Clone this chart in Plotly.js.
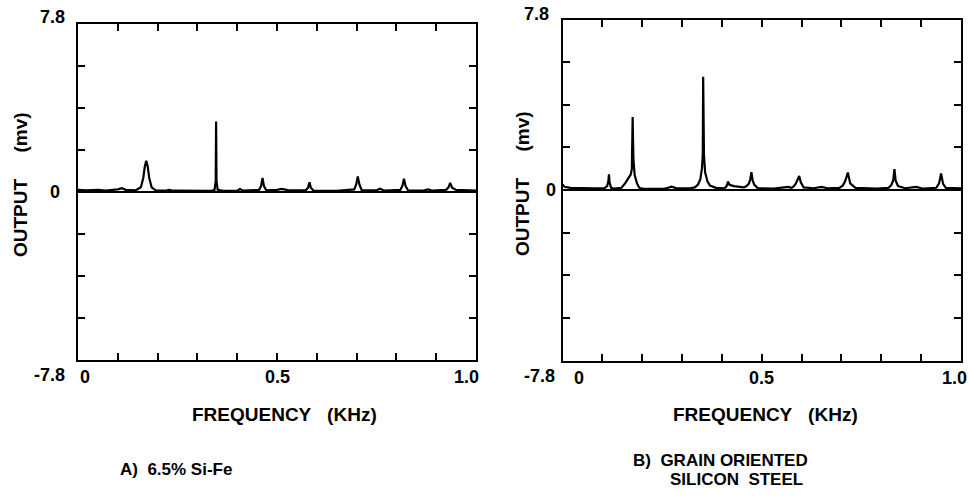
<!DOCTYPE html>
<html>
<head>
<meta charset="utf-8">
<script src="https://cdn.plot.ly/plotly-3.0.1.min.js"></script>
<style>
  html, body { margin: 0; padding: 0; background: #fff; }
  #chart { width: 968px; height: 496px; }
</style>
</head>
<body>
<div id="chart"></div>
<script>
// Output spectra (mV) versus frequency (kHz) for two core materials.

// A) 6.5% Si-Fe
const freqA = [0.000, 0.020, 0.050, 0.070, 0.100, 0.110, 0.120, 0.145, 0.158, 0.164, 0.168, 0.1715, 0.175, 0.179, 0.185, 0.195,
  0.220, 0.228, 0.240, 0.290, 0.335, 0.343, 0.346, 0.347, 0.348, 0.351, 0.365, 0.400, 0.407, 0.415, 0.455, 0.460,
  0.4636, 0.467, 0.473, 0.500, 0.512, 0.530, 0.572, 0.578, 0.5816, 0.585, 0.592, 0.650, 0.694, 0.699, 0.703, 0.707,
  0.713, 0.750, 0.759, 0.770, 0.810, 0.815, 0.819, 0.823, 0.830, 0.870, 0.880, 0.890, 0.925, 0.931, 0.935, 0.940,
  0.950, 1.000];
const outA = [0.10, 0.08, 0.10, 0.06, 0.12, 0.18, 0.10, 0.08, 0.22, 0.65, 1.20, 1.45, 1.20, 0.65, 0.22, 0.08,
  0.06, 0.10, 0.06, 0.05, 0.05, 0.10, 0.50, 3.27, 0.50, 0.10, 0.05, 0.06, 0.14, 0.06, 0.10, 0.28,
  0.65, 0.28, 0.08, 0.10, 0.14, 0.08, 0.08, 0.20, 0.45, 0.20, 0.06, 0.05, 0.12, 0.35, 0.72, 0.35,
  0.08, 0.08, 0.15, 0.06, 0.10, 0.28, 0.62, 0.28, 0.06, 0.08, 0.12, 0.06, 0.10, 0.22, 0.42, 0.20,
  0.10, 0.06];

// B) Grain oriented silicon steel
const freqB = [0.000, 0.005, 0.020, 0.050, 0.080, 0.105, 0.112, 0.115, 0.1166, 0.118, 0.122, 0.130, 0.148, 0.157, 0.165,
  0.171, 0.174, 0.175, 0.176, 0.178, 0.181, 0.187, 0.193, 0.202, 0.215, 0.255, 0.265, 0.274, 0.285, 0.320,
  0.332, 0.340, 0.346, 0.350, 0.352, 0.353, 0.355, 0.358, 0.364, 0.370, 0.385, 0.406, 0.411, 0.4156, 0.419,
  0.430, 0.455, 0.462, 0.468, 0.471, 0.474, 0.477, 0.481, 0.490, 0.530, 0.566, 0.575, 0.580, 0.585, 0.589,
  0.591, 0.594, 0.598, 0.605, 0.630, 0.650, 0.665, 0.695, 0.703, 0.708, 0.712, 0.716, 0.722, 0.735, 0.790,
  0.818, 0.825, 0.830, 0.833, 0.836, 0.842, 0.860, 0.888, 0.905, 0.938, 0.945, 0.950, 0.955, 0.962, 1.000];
const outB = [0.25, 0.15, 0.10, 0.08, 0.07, 0.08, 0.18, 0.40, 0.72, 0.35, 0.10, 0.06, 0.10, 0.30, 0.50,
  0.70, 0.95, 1.60, 3.34, 1.40, 0.70, 0.30, 0.09, 0.06, 0.05, 0.05, 0.10, 0.15, 0.09, 0.08,
  0.12, 0.25, 0.50, 1.00, 1.60, 5.18, 1.60, 0.80, 0.38, 0.20, 0.10, 0.08, 0.15, 0.38, 0.24,
  0.18, 0.12, 0.18, 0.30, 0.48, 0.82, 0.45, 0.25, 0.08, 0.06, 0.14, 0.10, 0.16, 0.28, 0.45,
  0.55, 0.64, 0.35, 0.12, 0.08, 0.14, 0.08, 0.10, 0.20, 0.35, 0.55, 0.80, 0.30, 0.10, 0.06,
  0.10, 0.22, 0.45, 0.95, 0.42, 0.18, 0.08, 0.14, 0.06, 0.10, 0.30, 0.76, 0.28, 0.10, 0.08];

// Axis labelling
const xTickVals = [0, 0.5, 1.0];
const xTickText = ['0', '0.5', '1.0'];
const yTickVals = [7.8, 0, -7.8];
const yTickText = ['7.8', '0', '-7.8'];
const xTitle = 'FREQUENCY\u00a0\u00a0\u00a0(KHz)';
const yTitle = 'OUTPUT\u00a0\u00a0\u00a0\u00a0\u00a0(mv)';
const captionA = ['A)\u00a0\u00a06.5% Si-Fe'];
const captionB = ['B)\u00a0\u00a0GRAIN ORIENTED', 'SILICON\u00a0\u00a0STEEL'];

const W = 968, H = 496;
const px = v => v / W;
const py = v => 1 - v / H;

const FONT = 'Liberation Sans, Arial, Helvetica, sans-serif';

function xAxis(dom, anchor) {
  return {
    domain: dom, anchor: anchor, range: [0, 1], tick0: 0, dtick: 0.1,
    ticks: 'inside', ticklen: 7, tickwidth: 2, tickcolor: '#000',
    showline: true, linewidth: 2, linecolor: '#000', mirror: 'ticks',
    showgrid: false, zeroline: false, showticklabels: false, fixedrange: true
  };
}
function yAxis(dom, anchor) {
  return {
    domain: dom, anchor: anchor, range: [-7.8, 7.8], tick0: 0, dtick: 1.95,
    ticks: 'inside', ticklen: 7, tickwidth: 2, tickcolor: '#000',
    showline: true, linewidth: 2, linecolor: '#000', mirror: 'ticks',
    showgrid: false, zeroline: true, zerolinecolor: '#000', zerolinewidth: 2,
    showticklabels: false, fixedrange: true
  };
}

const traces = [
  { x: freqA, y: outA, xaxis: 'x', yaxis: 'y', mode: 'lines',
    line: { color: '#000', width: 2.2 }, hoverinfo: 'skip' },
  { x: freqB, y: outB, xaxis: 'x2', yaxis: 'y2', mode: 'lines',
    line: { color: '#000', width: 2.2 }, hoverinfo: 'skip' }
];

const tickFont = { family: FONT, size: 18, color: '#000', weight: 700 };
const titleFont = { family: FONT, size: 19, color: '#000', weight: 700 };
const capFont = { family: FONT, size: 17, color: '#000', weight: 700 };

const annotations = [];

// label offsets (px) for each panel
const panels = [
  { xr: 'x', yr: 'y', xShift: [7, 0, -10], yLabShift: [-11, -16, -11], yTopShift: 7, yBotShift: -15,
    yTitleX: 20, yTitleY: 185, xTitleX: 284, xTitleY: 414 },
  { xr: 'x2', yr: 'y2', xShift: [16, 0, -7], yLabShift: [-12, -5, -6], yTopShift: 5, yBotShift: -15,
    yTitleX: 522, yTitleY: 184, xTitleX: 765, xTitleY: 414 }
];

panels.forEach(p => {
  xTickVals.forEach((v, i) => {
    annotations.push({ xref: p.xr, yref: p.yr, x: v, y: -7.8, text: xTickText[i], showarrow: false,
      xanchor: 'center', yanchor: 'top', xshift: p.xShift[i], yshift: -5, font: tickFont });
  });
  yTickVals.forEach((v, i) => {
    let ys = 0;
    if (i === 0) ys = p.yTopShift;
    if (i === yTickVals.length - 1) ys = p.yBotShift;
    annotations.push({ xref: p.xr + ' domain', yref: p.yr, x: 0, y: v, text: yTickText[i], showarrow: false,
      xanchor: 'right', yanchor: 'middle', xshift: p.yLabShift[i], yshift: ys, font: tickFont });
  });
  annotations.push({ xref: 'paper', yref: 'paper', x: px(p.yTitleX), y: py(p.yTitleY), text: yTitle,
    textangle: -90, showarrow: false, xanchor: 'center', yanchor: 'middle', font: titleFont });
  annotations.push({ xref: 'paper', yref: 'paper', x: px(p.xTitleX), y: py(p.xTitleY), text: xTitle,
    showarrow: false, xanchor: 'center', yanchor: 'middle', font: titleFont });
});

annotations.push({ xref: 'paper', yref: 'paper', x: px(118), y: py(469), text: captionA[0], showarrow: false,
  xanchor: 'left', yanchor: 'middle', font: capFont });
annotations.push({ xref: 'paper', yref: 'paper', x: px(631), y: py(460), text: captionB[0], showarrow: false,
  xanchor: 'left', yanchor: 'middle', font: capFont });
annotations.push({ xref: 'paper', yref: 'paper', x: px(668), y: py(479), text: captionB[1], showarrow: false,
  xanchor: 'left', yanchor: 'middle', font: capFont });

const layout = {
  width: W, height: H,
  margin: { l: 0, r: 0, t: 0, b: 0 },
  paper_bgcolor: '#fff', plot_bgcolor: '#fff',
  showlegend: false,
  xaxis: xAxis([px(78), px(476)], 'y'),
  yaxis: yAxis([py(360), py(24)], 'x'),
  xaxis2: xAxis([px(562.5), px(961)], 'y2'),
  yaxis2: yAxis([py(360.5), py(19.5)], 'x2'),
  annotations: annotations,
  font: { family: FONT, color: '#000' }
};

Plotly.newPlot('chart', traces, layout, { staticPlot: true, displayModeBar: false });
</script>
</body>
</html>
